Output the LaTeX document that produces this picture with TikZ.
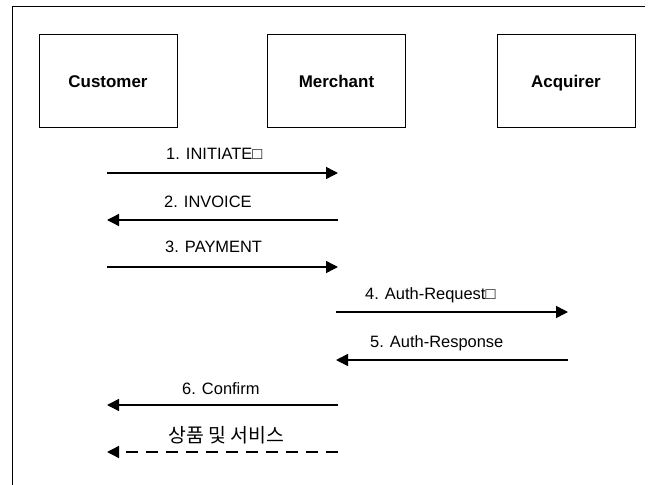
\documentclass[tikz,border=0pt]{standalone}
\usepackage{fontspec}
\setmainfont{Liberation Sans}
\newfontfamily\krfont{Noto Sans CJK KR}
\usetikzlibrary{arrows.meta}
\tikzset{
  actor/.style={draw, line width=0.9bp, minimum width=138bp, minimum height=93bp, inner sep=0pt,
    text height=15bp, text depth=0bp, font=\fontsize{17}{19}\selectfont\bfseries},
  msg/.style={line width=1.4bp, -{Triangle[length=12bp,width=12bp]}},
  dmsg/.style={msg, dash pattern=on 12bp off 8bp},
  lbl/.style={anchor=base west, inner sep=0pt, font=\fontsize{16.5}{19}\selectfont},
}
\begin{document}
\begin{tikzpicture}[x=1bp,y=-1bp]
\useasboundingbox (0,0) rectangle (652,485);
\draw[line width=0.9bp] (645,6) -- (12,6) -- (12,485);
\node[actor] (cust) at (108,80.5) {Customer};
\node[actor] (merc) at (336.5,80.5) {Merchant};
\node[actor] (acq) at (566,80.5) {Acquirer};
% message end points
\coordinate (c1) at (107,173); \coordinate (m1) at (338,173);
\coordinate (c2) at (107,220); \coordinate (m2) at (338,220);
\coordinate (c3) at (107,267); \coordinate (m3) at (338,267);
\coordinate (m4) at (336,312); \coordinate (a4) at (568,312);
\coordinate (m5) at (336,360); \coordinate (a5) at (568,360);
\coordinate (c6) at (107,405); \coordinate (m6) at (338,405);
\coordinate (c7) at (107,452); \coordinate (m7) at (338,452);
\draw[msg] (c1) -- (m1);
\draw[msg] (m2) -- (c2);
\draw[msg] (c3) -- (m3);
\draw[msg] (m4) -- (a4);
\draw[msg] (a5) -- (m5);
\draw[msg] (m6) -- (c6);
\draw[dmsg] (m7) -- (c7);
\node[lbl] (l1) at (166,160) {1. INITIATE□};
\node[lbl] (l2) at (164,207.5) {2. INVOICE};
\node[lbl] (l3) at (165,253) {3. PAYMENT};
\node[lbl] (l4) at (365,299) {4. Auth-Request□};
\node[lbl] (l5) at (370,347.5) {5. Auth-Response};
\node[lbl] (l6) at (182,394) {6. Confirm};
\node[lbl, font=\fontsize{19.5}{22}\selectfont\krfont] (l7) at (168,442) {상품 및 서비스};
\end{tikzpicture}
\end{document}
